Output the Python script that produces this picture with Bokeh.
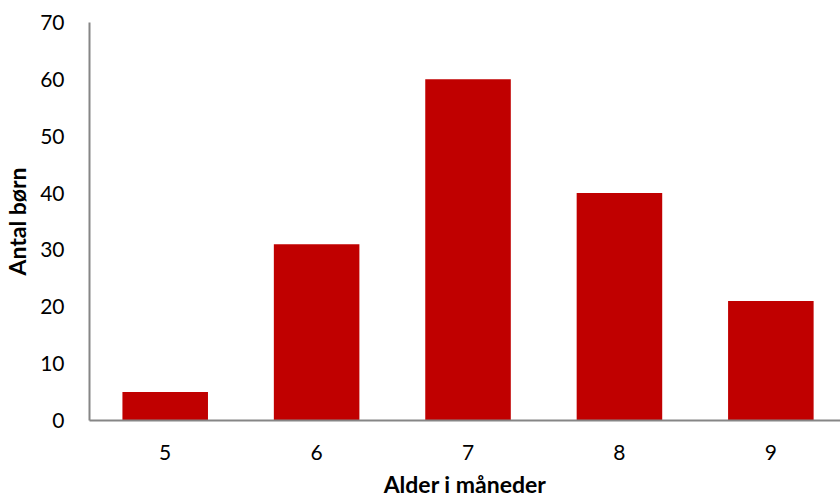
from bokeh.plotting import figure
from bokeh.models import Range1d, ColumnDataSource, FixedTicker
from bokeh.embed import file_html
from bokeh.resources import INLINE

# Number of children by age (months)
ages = [5, 6, 7, 8, 9]
counts = [5, 31, 60, 40, 21]
y_ticks = [0, 10, 20, 30, 40, 50, 60, 70]

FONT = "Lato"
AXIS_GREY = "#868686"
BAR_RED = "#C00000"

src = ColumnDataSource(dict(age=ages, count=counts))

p = figure(
    width=840, height=500,
    x_range=Range1d(4.5, 9.46), y_range=Range1d(0, 70),
    output_backend="svg", toolbar_location=None,
    min_border_left=89, min_border_right=0,
    min_border_top=22, min_border_bottom=78,
)

p.vbar(x="age", top="count", width=0.565, source=src,
       fill_color=BAR_RED, line_color=None)

p.grid.visible = False
p.outline_line_color = None

for ax in (p.xaxis[0], p.yaxis[0]):
    ax.axis_line_color = AXIS_GREY
    ax.axis_line_width = 2
    ax.major_tick_line_color = None
    ax.minor_tick_line_color = None
    ax.major_label_text_font = FONT
    ax.major_label_text_font_size = "21px"
    ax.major_label_text_color = "#000000"
    ax.axis_label_text_font = FONT
    ax.axis_label_text_font_size = "23px"
    ax.axis_label_text_font_style = "bold"
    ax.axis_label_text_color = "#000000"

p.xaxis.ticker = FixedTicker(ticks=ages)
p.yaxis.ticker = FixedTicker(ticks=y_ticks)
p.xaxis.major_label_standoff = 18
p.yaxis.major_label_standoff = 19
p.xaxis.axis_label = "Alder i måneder"
p.yaxis.axis_label = "Antal børn"
p.xaxis.axis_label_standoff = 7
p.yaxis.axis_label_standoff = 6

open("out.html", "w").write(file_html(p, INLINE))
